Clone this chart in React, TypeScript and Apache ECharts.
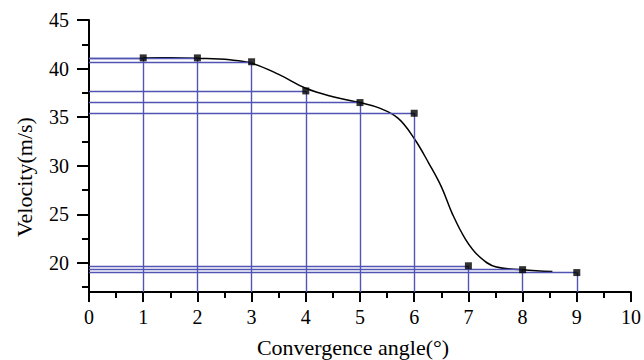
import React, { useEffect, useRef } from "react";
import * as echarts from "echarts";

const angles = [1, 2, 3, 4, 5, 6, 7, 8, 9];
const velocities = [41.1, 41.1, 40.7, 37.7, 36.5, 35.4, 19.7, 19.3, 19.0];

// fitted curve
const fitX = [1, 1.5, 2, 2.6, 3, 3.5, 4, 4.5, 5, 5.35, 5.7, 6, 6.27, 6.5, 6.7, 6.95, 7.2, 7.5, 8, 8.55];
const fitY = [41.1, 41.12, 41.06, 40.9, 40.55, 39.4, 37.97, 37.1, 36.5, 35.95, 34.9, 32.8, 30.25, 27.85, 25.1, 22.4, 20.65, 19.6, 19.3, 19.1];

const yMajor = [20, 25, 30, 35, 40, 45];
const yMinor = [17.5, 22.5, 27.5, 32.5, 37.5, 42.5];
const xTicks = [0, 1, 2, 3, 4, 5, 6, 7, 8, 9, 10];

const Y_MIN = 17;
const Y_MAX = 45;
const FONT = "'Liberation Serif', 'Times New Roman', serif";
const GUIDE = "#5154b2";

export default function App() {
  const ref = useRef<HTMLDivElement>(null);
  useEffect(() => {
    if (!ref.current) return;
    const chart = echarts.init(ref.current, null, { renderer: "svg" });
    const guideLines: any[] = [];
    angles.forEach((a, i) => {
      const v = velocities[i];
      guideLines.push([{ coord: [0, v] }, { coord: [a, v] }]);
      guideLines.push([{ coord: [a, v] }, { coord: [a, Y_MIN] }]);
    });
    chart.setOption({
      animation: false,
      backgroundColor: "#ffffff",
      grid: { left: 89, right: 10, top: 20, bottom: 68 },
      xAxis: {
        type: "value",
        min: xTicks[0],
        max: xTicks[xTicks.length - 1],
        interval: 1,
        axisLine: { show: true, lineStyle: { color: "#000", width: 2 } },
        axisTick: { show: true, length: 10, lineStyle: { color: "#000", width: 2 } },
        minorTick: { show: true, splitNumber: 2, length: 6, lineStyle: { color: "#000", width: 2 } },
        splitLine: { show: false },
        axisLabel: { fontFamily: FONT, fontSize: 20, color: "#000", margin: 15 },
      },
      yAxis: [
        {
          type: "value",
          min: Y_MIN,
          max: Y_MAX,
          axisLine: { show: true, lineStyle: { color: "#000", width: 2 } },
          axisTick: { show: true, length: 12, customValues: yMajor, lineStyle: { color: "#000", width: 2 } },
          splitLine: { show: false },
          axisLabel: { fontFamily: FONT, fontSize: 20, color: "#000", margin: 20, customValues: yMajor },
        },
        {
          type: "value",
          min: Y_MIN,
          max: Y_MAX,
          position: "left",
          axisLine: { show: false },
          axisTick: { show: true, length: 7, customValues: yMinor, lineStyle: { color: "#000", width: 2 } },
          splitLine: { show: false },
          axisLabel: { show: false },
        },
      ],
      graphic: [
        {
          type: "text",
          x: 353,
          y: 347,
          style: {
            text: "Convergence angle(°)",
            fontFamily: FONT,
            fontSize: 22,
            fill: "#000",
            align: "center",
            verticalAlign: "middle",
          },
        },
        {
          type: "text",
          x: 24,
          y: 177,
          rotation: Math.PI / 2,
          style: {
            text: "Velocity(m/s)",
            fontFamily: FONT,
            fontSize: 22,
            fill: "#000",
            align: "center",
            verticalAlign: "middle",
          },
        },
      ],
      series: [
        {
          type: "scatter",
          data: angles.map((a, i) => [a, velocities[i]]),
          symbol: "rect",
          symbolSize: 7,
          itemStyle: { color: "#000" },
          z: 5,
          markLine: {
            silent: true,
            symbol: ["none", "none"],
            label: { show: false },
            lineStyle: { color: GUIDE, width: 1.4, type: "solid", opacity: 1 },
            data: guideLines,
          },
        },
        {
          type: "line",
          data: fitX.map((x, i) => [x, fitY[i]]),
          smooth: 0.4,
          showSymbol: false,
          lineStyle: { color: "#000", width: 1.5 },
          z: 4,
        },
      ],
    });
    return () => chart.dispose();
  }, []);
  return (
    <div
      ref={ref}
      style={{ position: "fixed", left: 0, top: 0, width: 644, height: 360 }}
    />
  );
}
